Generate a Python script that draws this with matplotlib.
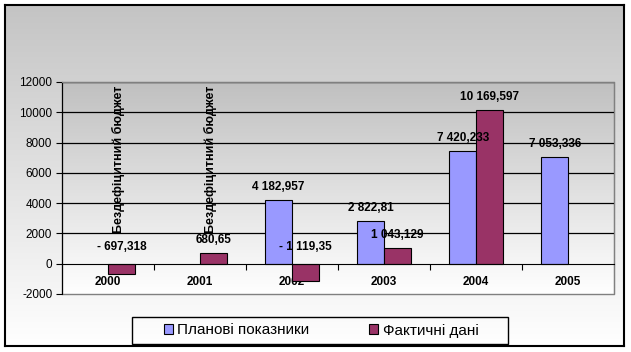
import numpy as np
import matplotlib
matplotlib.use('Agg')
import matplotlib.pyplot as plt
from matplotlib.patches import Patch, Rectangle

plt.rcParams['font.family'] = ['Liberation Sans', 'DejaVu Sans']
plt.rcParams['axes.unicode_minus'] = False

# Data
years = ['2000', '2001', '2002', '2003', '2004', '2005']
planned = [np.nan, np.nan, 4182.957, 2822.81, 7420.233, 7053.336]
actual = [-697.318, 680.65, -1119.35, 1043.129, 10169.597, np.nan]
planned_labels = ['', '', '4 182,957', '2 822,81', '7 420,233', '7 053,336']
actual_labels = ['- 697,318', '680,65', '- 1 119,35', '1 043,129', '10 169,597', '']
no_deficit_years = [0, 1]
no_deficit_text = 'Бездефіцитний бюджет'
series_names = ['Планові показники', 'Фактичні дані']

col_plan = '#9999ff'
col_fact = '#993366'

W, H = 631, 352
fig = plt.figure(figsize=(W / 100, H / 100), dpi=100)
fig.patch.set_facecolor('white')

# Chart area background with gradient and black border
bg = fig.add_axes([5 / W, (H - 346) / H, 619 / W, 341 / H])
grad = np.linspace(0, 1, 256).reshape(-1, 1)
bg.imshow(grad, cmap=matplotlib.colors.LinearSegmentedColormap.from_list('g', ['#c4c4c4', '#ffffff']),
          aspect='auto', extent=[0, 1, 0, 1], origin='upper')
bg.set_xlim(0, 1)
bg.set_ylim(0, 1)
bg.set_xticks([])
bg.set_yticks([])
for s in bg.spines.values():
    s.set_color('black')
    s.set_linewidth(1.5)
bg.set_zorder(0)

# Plot area
ax = fig.add_axes([62 / W, (H - 294) / H, 552 / W, 212 / H])
ax.set_zorder(1)
ax.patch.set_alpha(0)
ax.imshow(grad, cmap=matplotlib.colors.LinearSegmentedColormap.from_list('p', ['#c0c0c0', '#ffffff']),
          aspect='auto', extent=[0, 1, 0, 1], origin='upper', transform=ax.transAxes, zorder=0)

x = np.arange(len(years))
bw = 0.29
ax.bar(x - bw / 2, planned, bw, color=col_plan, edgecolor='black', linewidth=0.8, zorder=3)
ax.bar(x + bw / 2, actual, bw, color=col_fact, edgecolor='black', linewidth=0.8, zorder=3)

ax.set_xlim(-0.5, len(years) - 0.5)
ax.set_ylim(-2000, 12000)
ax.set_yticks(np.arange(-2000, 12001, 2000))
for v in range(2000, 12001, 2000):
    ax.axhline(v, color='black', linewidth=0.9, zorder=1)

# Spines
for s in ['top', 'right']:
    ax.spines[s].set_color('#808080')
ax.spines['left'].set_color('black')
ax.spines['bottom'].set_position(('data', 0))
ax.spines['bottom'].set_color('black')
ax.spines['bottom'].set_zorder(4)
ax.add_patch(Rectangle((0, 0), 1, 1, transform=ax.transAxes, fill=False,
                       edgecolor='#808080', linewidth=1, clip_on=False, zorder=0.5))

# x ticks: marks at boundaries, labels at centers
ax.set_xticks(np.arange(0.5, len(years) - 1, 1.0))
ax.set_xticklabels([])
ax.tick_params(axis='x', which='major', direction='out', length=4, color='black')
ax.set_xticks(x, minor=True)
ax.set_xticklabels(years, minor=True, fontweight='bold', fontsize=8.5)
ax.tick_params(axis='x', which='minor', length=0, pad=9)
ax.tick_params(axis='y', direction='out', length=4, labelsize=8.5, pad=3)

# Value labels
for i in range(len(years)):
    if planned_labels[i]:
        ax.annotate(planned_labels[i], (x[i] - bw / 2, planned[i]), xytext=(0, 13),
                    textcoords='offset pixels', ha='center', va='center',
                    fontsize=8.5, fontweight='bold', zorder=5)
    if actual_labels[i]:
        base = max(actual[i], 0)
        off = 13 if actual[i] > 0 else 17
        ax.annotate(actual_labels[i], (x[i] + bw / 2, base), xytext=(0, off),
                    textcoords='offset pixels', ha='center', va='center',
                    fontsize=8.5, fontweight='bold', zorder=5)

for i in no_deficit_years:
    ax.text(x[i] + 0.11, 2000, no_deficit_text, rotation=90, ha='center', va='bottom',
            fontsize=9, fontweight='bold', zorder=5)

# Legend
fig.patches.append(Rectangle((132 / W, (H - 344) / H), 376 / W, 27 / H,
                             transform=fig.transFigure, fill=False, edgecolor='black',
                             linewidth=1, zorder=3))
handles = [Patch(facecolor=col_plan, edgecolor='black', linewidth=0.8),
           Patch(facecolor=col_fact, edgecolor='black', linewidth=0.8)]
fig.legend(handles, series_names, loc='center', bbox_to_anchor=(321 / W, (H - 330.5) / H),
           ncol=2, frameon=False, fontsize=11, handlelength=0.6, handleheight=0.6,
           handletextpad=0.3, columnspacing=3.9)

fig.savefig('out.png', dpi=100)
